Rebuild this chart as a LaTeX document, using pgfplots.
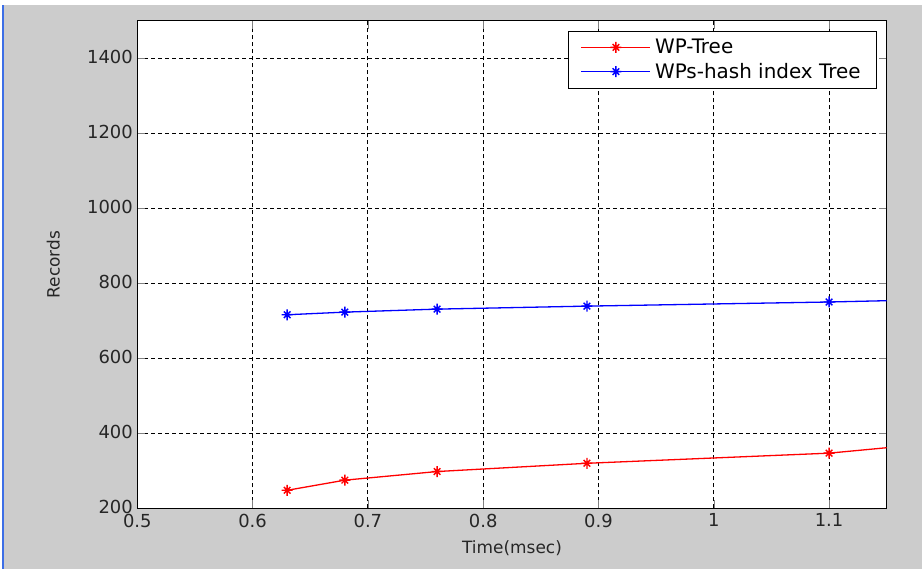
\documentclass[border=0pt]{standalone}
\usepackage{pgfplots}
\pgfplotsset{compat=1.18}
\usepackage{fontspec}
\setmainfont{DejaVu Sans}
\definecolor{figgray}{RGB}{204,204,204}
\definecolor{winblue}{RGB}{60,110,230}
% MATLAB-like asterisk: plus and cross together
\pgfdeclareplotmark{matstar}{%
  \pgfpathmoveto{\pgfqpoint{-\pgfplotmarksize}{0pt}}\pgfpathlineto{\pgfqpoint{\pgfplotmarksize}{0pt}}%
  \pgfpathmoveto{\pgfqpoint{0pt}{-\pgfplotmarksize}}\pgfpathlineto{\pgfqpoint{0pt}{\pgfplotmarksize}}%
  \pgfpathmoveto{\pgfqpoint{-0.6\pgfplotmarksize}{-0.6\pgfplotmarksize}}\pgfpathlineto{\pgfqpoint{0.6\pgfplotmarksize}{0.6\pgfplotmarksize}}%
  \pgfpathmoveto{\pgfqpoint{-0.6\pgfplotmarksize}{0.6\pgfplotmarksize}}\pgfpathlineto{\pgfqpoint{0.6\pgfplotmarksize}{-0.6\pgfplotmarksize}}%
  \pgfusepathqstroke}
\begin{document}
\begin{tikzpicture}[x=1bp,y=1bp]
\useasboundingbox (0,0) rectangle (922,569);
\fill[white] (0,0) rectangle (922,569);
\fill[figgray] (3,0) rectangle (922,564);
\draw[winblue, line width=1.2bp] (3,0) -- (3,564);
\begin{axis}[
 at={(137.3bp,60.7bp)}, anchor=south west,
 scale only axis,
 width=749.4bp, height=487.6bp,
 xmin=0.5, xmax=1.15,
 ymin=200, ymax=1500,
 xtick={0.5,0.6,...,1.1},
 ytick={200,400,...,1400},
 tick align=inside,
 major tick length=8bp,
 xtick pos=both, ytick pos=both,
 axis line style={black, line width=1bp},
 axis background/.style={fill=white},
 grid=major,
 major grid style={black, line width=0.8bp, dash pattern=on 4bp off 3bp},
 /pgf/number format/assume math mode=true,
 /pgf/number format/set thousands separator={},
 ticklabel style={font=\fontsize{18}{21}\selectfont, text=black!85},
 xticklabel style={yshift=-2bp},
 yticklabel style={xshift=-1bp, yshift=1bp},
 xlabel={Time(msec)},
 ylabel={Records},
 label style={font=\fontsize{17}{20}\selectfont, text=black!85},
 xlabel style={at={(axis description cs:0.5,-0.082)}, anchor=center},
 ylabel style={at={(axis description cs:-0.112,0.5)}, anchor=center, rotate=0},
 legend style={at={(axis description cs:0.987,0.979)}, anchor=north east,
   draw=black, line width=0.8bp, fill=white,
   font=\fontsize{20}{23}\selectfont,
   inner xsep=12bp, inner ysep=6bp, row sep=4bp,
   nodes={inner xsep=4bp}},
 legend cell align=left,
 legend image code/.code={%
   \draw[mark=none] (0bp,0bp) -- (69bp,0bp);
   \draw[mark indices={1}] plot[only marks] coordinates {(34.5bp,0bp)};},
 every axis plot/.append style={line width=1.3bp, mark=matstar, mark size=5.5bp,
   mark options={line width=1.4bp}},
]
\addplot[red, mark indices={1,2,3,4,5}] coordinates {
 (0.63,248) (0.68,275) (0.76,298) (0.89,320) (1.1,347) (1.2,376)
};
\addlegendentry{WP-Tree}
\addplot[blue, mark indices={1,2,3,4,5}] coordinates {
 (0.63,716) (0.68,723) (0.76,731) (0.89,739) (1.1,750) (1.2,757)
};
\addlegendentry{WPs-hash index Tree}
\end{axis}
\end{tikzpicture}
\end{document}
